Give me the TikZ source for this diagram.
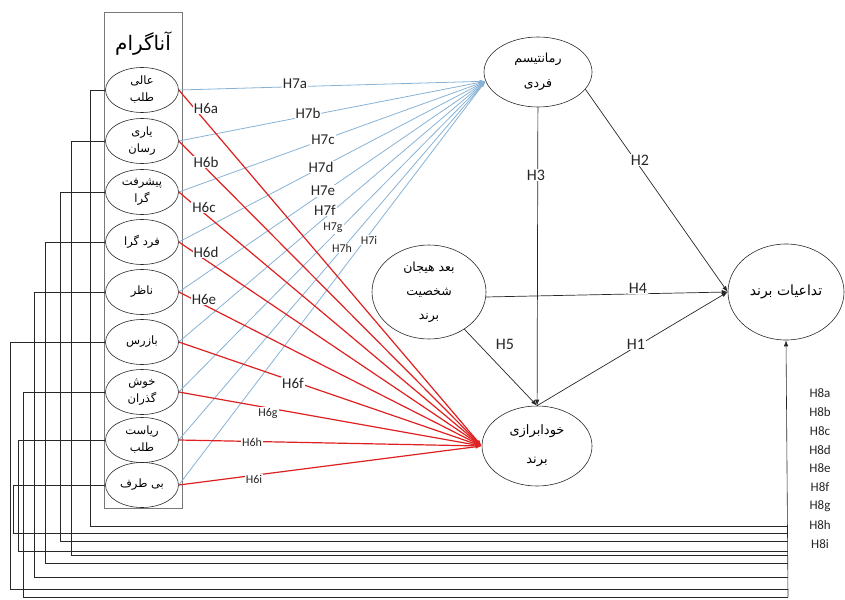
\documentclass[tikz,border=0pt]{standalone}
\usepackage{fontspec}
\setmainfont{Carlito}
\newfontfamily\fa[Script=Arabic]{DejaVu Sans}
\TeXXeTstate=1
\usetikzlibrary{shapes.geometric,arrows.meta}
\newcommand{\rl}[1]{\beginR#1\endR}
\definecolor{bluel}{RGB}{135,178,214}
\definecolor{redl}{RGB}{222,32,32}
\definecolor{boxgray}{RGB}{120,120,120}
\definecolor{ink}{RGB}{40,40,40}
\tikzset{
  trait/.style={draw=ink, ellipse, line width=0.6pt, minimum width=73pt, minimum height=45pt,
    inner sep=0pt, align=center, font=\fa\fontsize{11.5}{17}\selectfont},
  construct/.style={draw=ink, ellipse, line width=0.6pt, inner sep=0pt, align=center},
  blueln/.style={draw=bluel, line width=0.8pt, -{Latex[length=6pt,width=3.5pt]}},
  redln/.style={draw=redl, line width=1.2pt, -{Latex[length=6pt,width=4pt]}},
  blackln/.style={draw=ink, line width=0.7pt, -{Latex[length=6pt,width=4.5pt]}},
  feed/.style={draw=ink, line width=0.6pt},
  hlab/.style={fill=white, inner sep=1pt, text=black!85},
  hbig/.style={hlab, font=\fontsize{15}{15}\selectfont},
  hsmall/.style={hlab, font=\fontsize{12}{12}\selectfont},
  hlarge/.style={hlab, font=\fontsize{16}{16}\selectfont},
  height/.style={text=black!85, font=\fontsize{13}{13}\selectfont},
}
\begin{document}
\begin{tikzpicture}[x=1pt,y=-1pt]
\useasboundingbox (0,0) rectangle (845,599);

% group box with its title
\node[draw=boxgray, line width=0.7pt, minimum width=78pt, minimum height=496pt,
      anchor=north west, inner sep=0pt] (grp) at (104,12) {};
\node[font=\fa\fontsize{20}{20}\selectfont] (title) at (143,44) {\rl{آناگرام}};

% trait ellipses
\node[trait] (e1) at (142,90)  {\rl{عالی}\\\rl{طلب}};
\node[trait] (e2) at (142,141) {\rl{یاری}\\\rl{رسان}};
\node[trait] (e3) at (142,192) {\rl{پیشرفت}\\\rl{گرا}};
\node[trait] (e4) at (142,242) {\rl{فرد گرا}};
\node[trait] (e5) at (142,292) {\rl{ناظر}};
\node[trait] (e6) at (142,342) {\rl{بازرس}};
\node[trait] (e7) at (142,392) {\rl{خوش}\\\rl{گذران}};
\node[trait] (e8) at (142,440) {\rl{ریاست}\\\rl{طلب}};
\node[trait] (e9) at (142,485) {\rl{بی طرف}};

% main constructs
\node[construct, minimum width=108pt, minimum height=70pt, font=\fa\fontsize{12.5}{25}\selectfont]
  (rom) at (538,72) {\rl{رمانتیسم}\\\rl{فردی}};
\node[construct, minimum width=114pt, minimum height=94pt, font=\fa\fontsize{12.5}{24}\selectfont]
  (bh) at (429,292) {\rl{بعد هیجان}\\\rl{شخصیت}\\\rl{برند}};
\node[construct, minimum width=110pt, minimum height=80pt, font=\fa\fontsize{13}{29}\selectfont]
  (sx) at (537,446) {\rl{خودابرازی}\\\rl{برند}};
\node[construct, minimum width=116pt, minimum height=96pt, font=\fa\fontsize{14}{16}\selectfont]
  (ta) at (786,292) {\rl{تداعیات برند}};

% traits -> individual romanticism
\foreach \n in {1,...,9} \draw[blueln] (e\n.east) -- (rom.190);
% traits -> brand self-expression
\foreach \n in {1,...,9} \draw[redln] (e\n.east) -- (sx.west);

% structural paths
\draw[blackln] (rom.-20) -- (ta.west);
\draw[blackln] (rom) -- (sx);
\draw[blackln] (bh.-5) -- (ta.west);
\draw[blackln] (sx.north) -- (ta.west);
\draw[blackln] (bh) -- (sx.north);

% moderation bus from each trait to brand associations
\coordinate (bus) at (788,597);
\coordinate (f1) at (90,526);
\coordinate (f2) at (71,555);
\coordinate (f3) at (60,541);
\coordinate (f4) at (45,563);
\coordinate (f5) at (34,577);
\coordinate (f6) at (10,589);
\coordinate (f7) at (23,597);
\coordinate (f8) at (18,551);
\coordinate (f9) at (13,533);
\foreach \n in {1,...,9} \draw[feed] (e\n.west) -| (f\n) -- (f\n -| bus);
\draw[feed, -{Latex[length=6pt,width=4.5pt]}] (bus) -- (ta.south);

% path labels
\node[hbig] (h7a) at (295,84)  {H7a};
\node[hbig] (h7b) at (308,113) {H7b};
\node[hbig] (h7c) at (323,140) {H7c};
\node[hbig] (h7d) at (321,167) {H7d};
\node[hbig] (h7e) at (323,191) {H7e};
\node[hbig] (h7f) at (325,210) {H7f};
\node[hsmall] (h7g) at (333,228) {H7g};
\node[hsmall] (h7h) at (342,248) {H7h};
\node[hsmall] (h7i) at (369,240) {H7i};

\node[hbig] (h6a) at (206,108) {H6a};
\node[hbig] (h6b) at (206,162) {H6b};
\node[hbig] (h6c) at (204,207) {H6c};
\node[hbig] (h6d) at (206,252) {H6d};
\node[hbig] (h6e) at (204,299) {H6e};
\node[hbig] (h6f) at (293,383) {H6f};
\node[hsmall] (h6g) at (268,413) {H6g};
\node[hsmall] (h6h) at (252,442) {H6h};
\node[hsmall] (h6i) at (254,479) {H6i};

\node[hlarge] (h1) at (636,344) {H1};
\node[hlarge] (h2) at (640,160) {H2};
\node[hlarge] (h3) at (536,175) {H3};
\node[hlarge] (h4) at (638,288) {H4};
\node[hlarge] (h5) at (505,344) {H5};

\foreach \l [count=\i] in {a,b,c,d,e,f,g,h,i}
  \node[height] (h8\l) at (820,{393+18.9*(\i-1)}) {H8\l};
\end{tikzpicture}
\end{document}
